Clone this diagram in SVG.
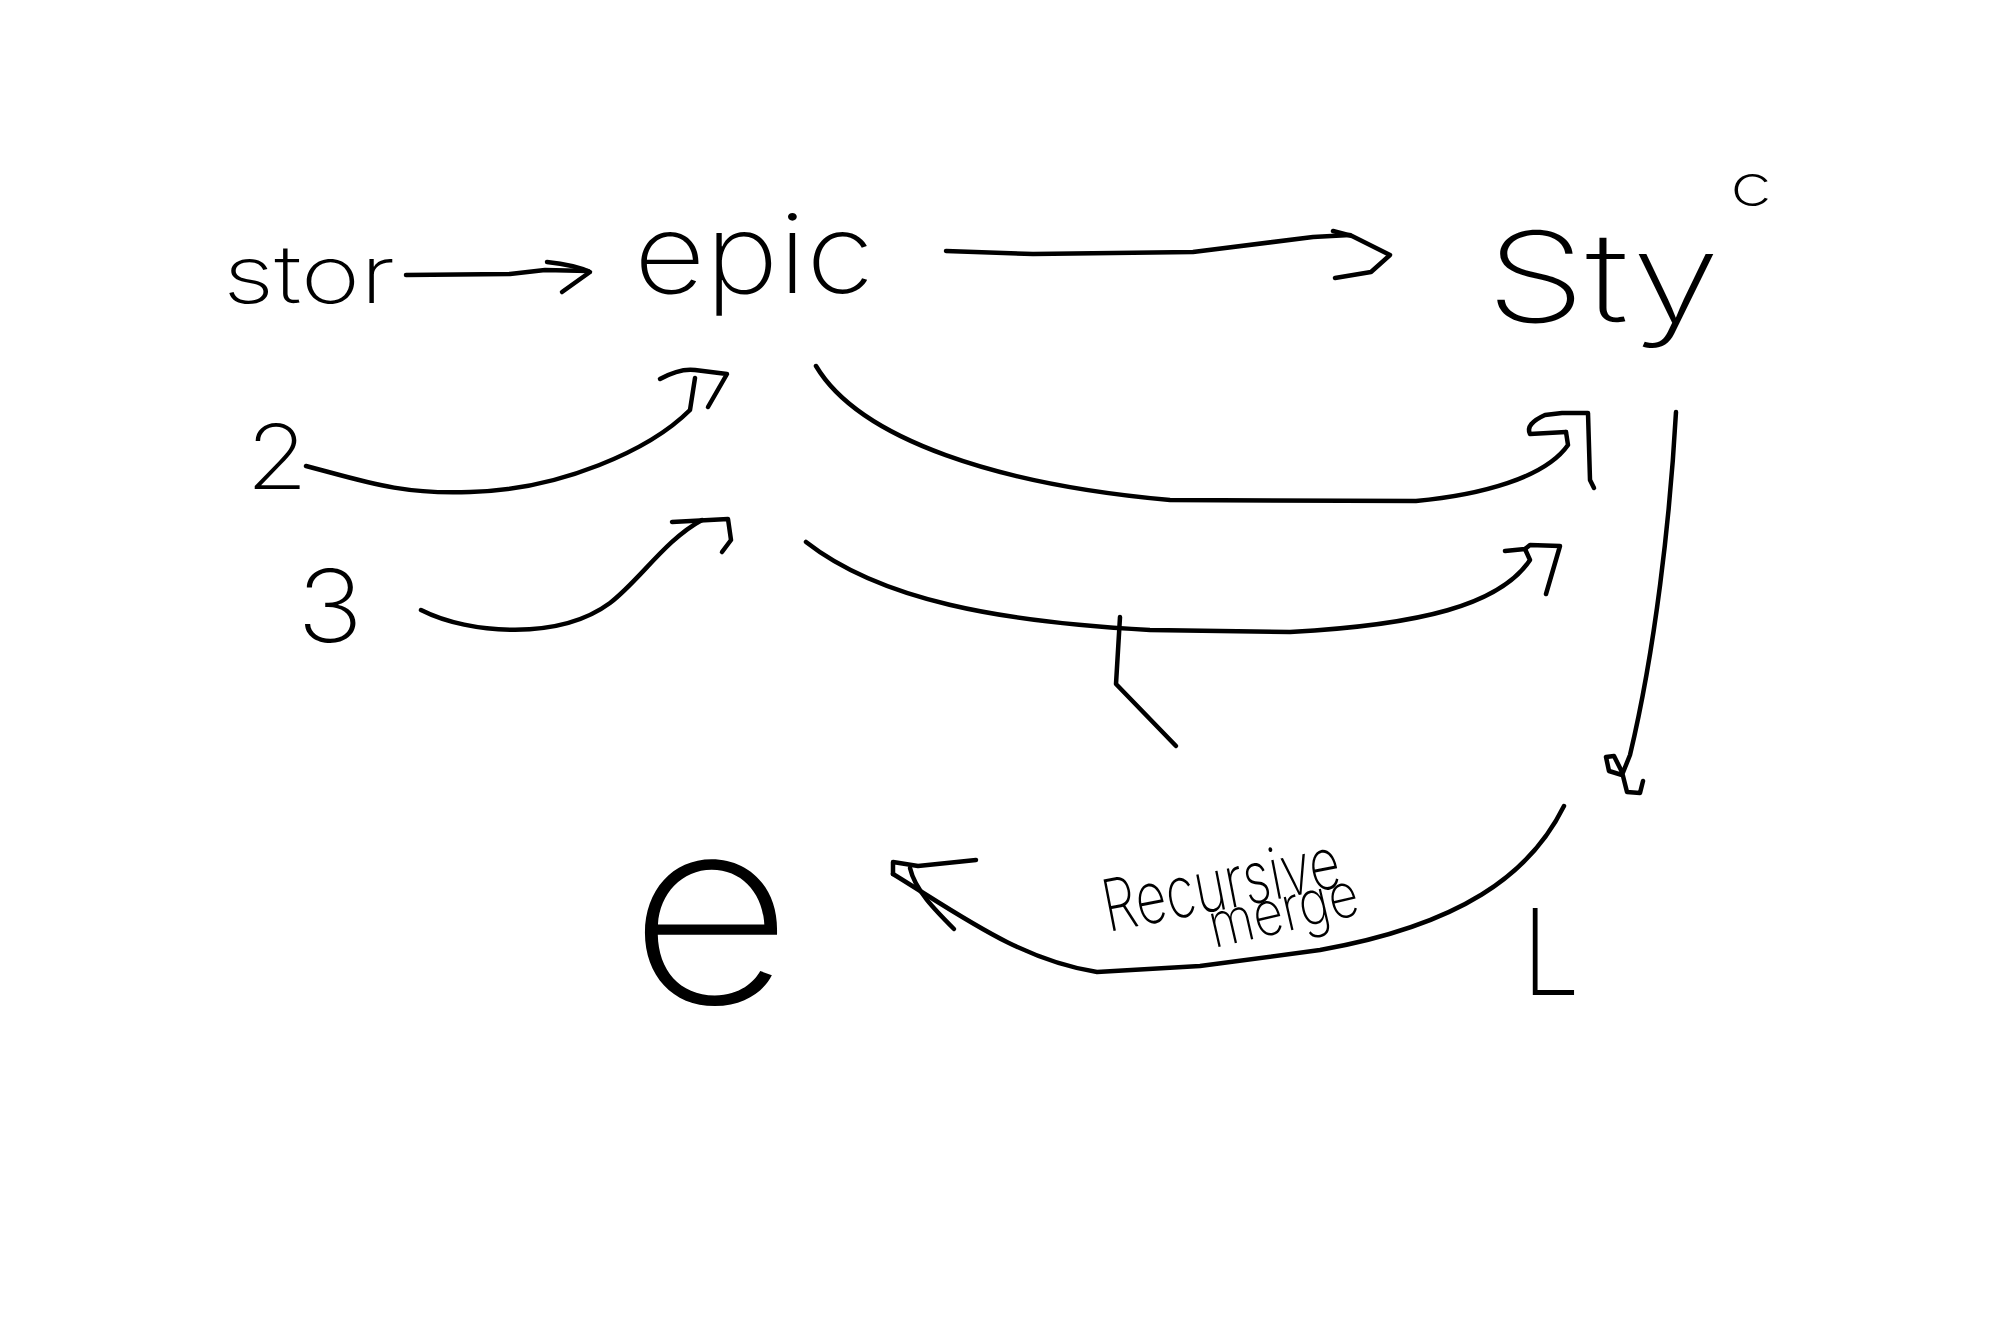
<svg xmlns="http://www.w3.org/2000/svg" width="2000" height="1333" viewBox="0 0 2000 1333">
<style>
.pen{fill:none;stroke:#000;stroke-width:4.5;stroke-linecap:round;stroke-linejoin:round}
.t{font-family:Inter,"Open Sans","Liberation Sans",sans-serif;font-weight:200;fill:#000}
</style>
<rect width="2000" height="1333" fill="#fff"/>
<g id="node-stor"><text class="t" x="223" y="303" font-size="80" textLength="172" lengthAdjust="spacingAndGlyphs">stor</text></g>
<g id="node-epic"><text class="t" x="634" y="293" font-size="110" textLength="240" lengthAdjust="spacingAndGlyphs">epic</text></g>
<g id="node-sty"><text class="t" x="1486" y="322" font-size="125" textLength="234" lengthAdjust="spacingAndGlyphs">Sty</text></g>
<g id="node-c"><text class="t" x="1730" y="206" font-size="58" textLength="42" lengthAdjust="spacingAndGlyphs">c</text></g>
<g id="node-2"><text class="t" x="246" y="489" font-size="90" textLength="62" lengthAdjust="spacingAndGlyphs">2</text></g>
<g id="node-3"><text class="t" x="297" y="642" font-size="100" textLength="66" lengthAdjust="spacingAndGlyphs">3</text></g>
<g id="node-e"><text class="t" x="628" y="1003" font-size="260" textLength="165" lengthAdjust="spacingAndGlyphs">e</text></g>
<g id="node-L"><text class="t" x="1522" y="995" font-size="120" textLength="58" lengthAdjust="spacingAndGlyphs">L</text></g>
<g id="label-recursive-merge">
<text class="t" x="1108" y="932" font-size="72" textLength="240" lengthAdjust="spacingAndGlyphs" transform="rotate(-11 1108 932)">Recursive</text>
<text class="t" x="1214" y="948" font-size="62" textLength="152" lengthAdjust="spacingAndGlyphs" transform="rotate(-13 1214 948)">merge</text>
</g>
<g id="connectors" class="pen">
<path d="M406,275 L510,274 L545,270 L588,271"/>
<path d="M547,262 Q575,265 590,272 L562,292"/>
<path d="M946,251 L1033,254 L1193,252 L1313,237 L1350,235"/>
<path d="M1333,231 L1352,236 L1390,255 L1371,272 L1335,278"/>
<path d="M306,466 C360,480 400,495 470,492 C560,490 650,450 690,410 L695,378"/>
<path d="M660,379 Q680,368 695,370 L727,374 L708,407"/>
<path d="M421,610 C470,635 560,640 610,603 C640,580 665,540 702,520"/>
<path d="M672,522 L728,519 L731,540 L722,552"/>
<path d="M816,366 C860,440 1000,485 1170,500 L1416,501 C1480,495 1545,478 1568,445 L1566,432"/>
<path d="M1566,432 L1530,434 Q1525,424 1545,415 L1562,413 L1588,413 L1590,480 L1594,488"/>
<path d="M806,542 C880,600 1000,622 1150,630 L1290,632 C1420,625 1500,605 1530,560 L1525,549"/>
<path d="M1505,551 L1525,549 L1530,545 L1560,546 L1546,594"/>
<path d="M1120,617 L1116,684 L1176,746"/>
<path d="M1676,412 C1670,520 1655,650 1630,755 L1622,775 L1609,771 L1606,757 L1614,756 L1622,772 L1627,792 L1640,793 L1643,781"/>
<path d="M1564,806 C1530,875 1460,925 1320,950 L1200,966 L1097,972 C1020,960 960,915 893,874"/>
<path d="M893,874 L893,862 L918,866 L976,860"/>
<path d="M910,868 C915,890 935,910 954,929"/>
</g>
</svg>
